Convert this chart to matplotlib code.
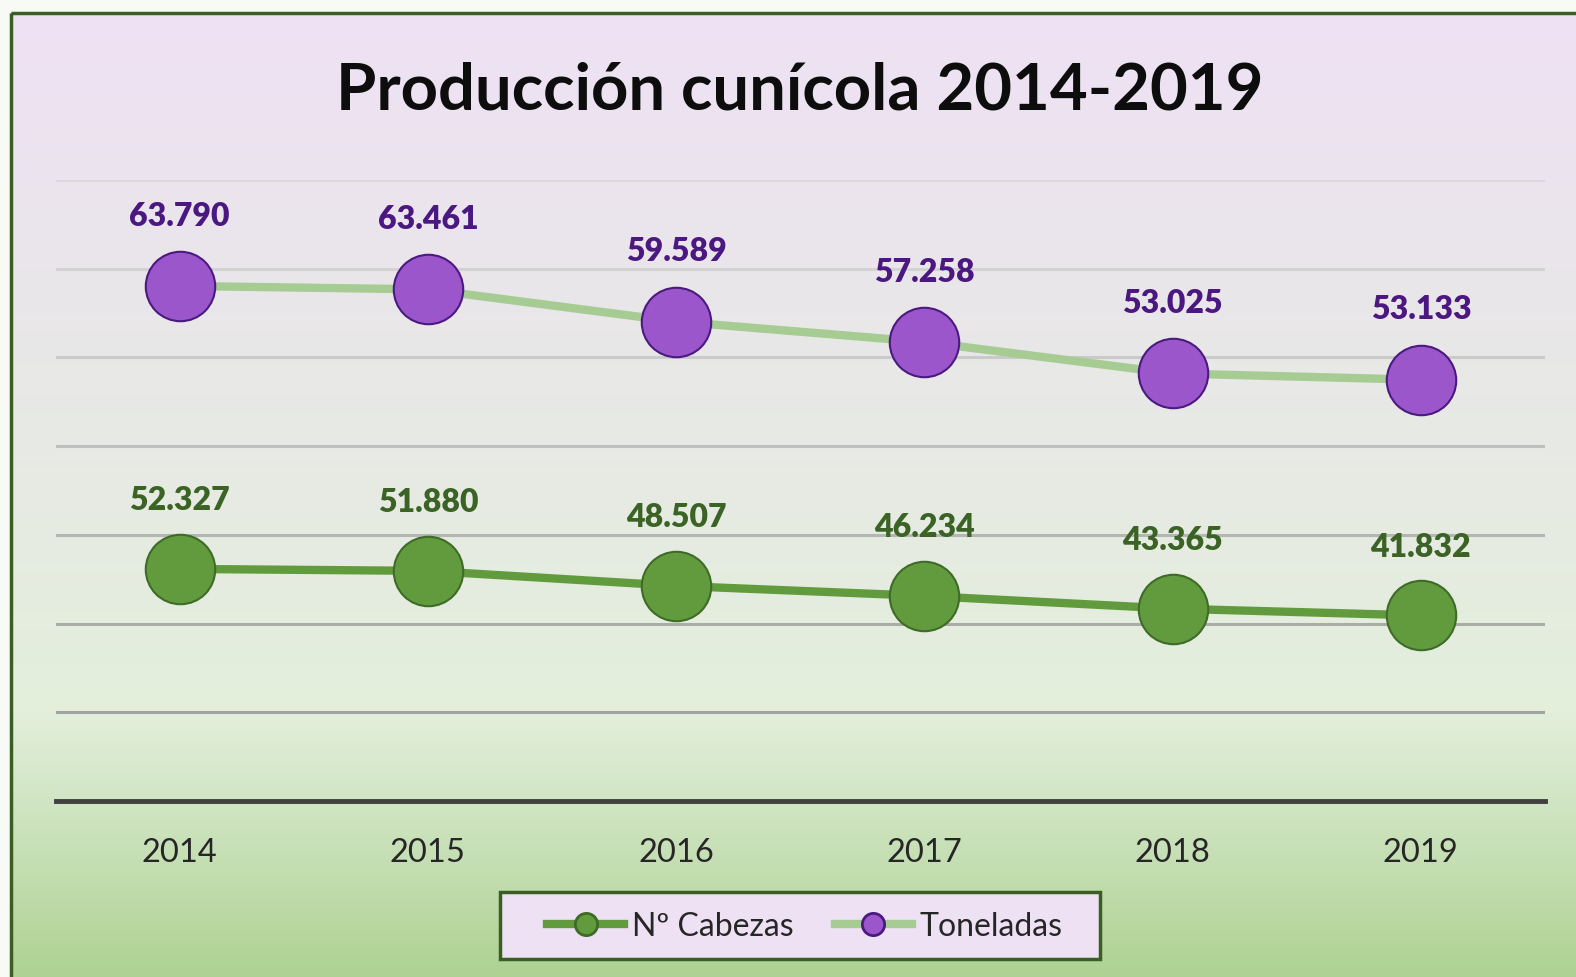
import matplotlib
matplotlib.use('Agg')

import numpy as np
import matplotlib.pyplot as plt
from matplotlib.colors import LinearSegmentedColormap
from matplotlib.patches import Rectangle
from matplotlib.lines import Line2D

# datos
years = ['2014', '2015', '2016', '2017', '2018', '2019']
cabezas = [52327, 51880, 48507, 46234, 43365, 41832]
toneladas = [63790, 63461, 59589, 57258, 53025, 53133]
cabezas_labels = ['52.327', '51.880', '48.507', '46.234', '43.365', '41.832']
toneladas_labels = ['63.790', '63.461', '59.589', '57.258', '53.025', '53.133']

plt.rcParams['font.family'] = ['Lato', 'DejaVu Sans']

W, H = 1576, 978
fig = plt.figure(figsize=(W / 100, H / 100), dpi=100)
fig.patch.set_facecolor('#F7FAF5')

# fondo con degradado y marco
bg = fig.add_axes([0, 0, 1, 1])
bg.set_xlim(0, W)
bg.set_ylim(H, 0)
bg.axis('off')
cmap = LinearSegmentedColormap.from_list(
    'fondo', [(0.0, '#EEE1F4'), (0.72, '#E3EFDB'), (0.82, '#CFE4C1'), (1.0, '#ACD190')])
grad = np.linspace(0, 1, 256).reshape(-1, 1)
bg.imshow(grad, cmap=cmap, aspect='auto', extent=[11, W + 10, H + 10, 14], zorder=0)
bg.add_patch(Rectangle((11, 14), W + 10, H + 10, fill=False, edgecolor='#3B5E24', lw=2.5, zorder=1))
# caja de la leyenda
bg.add_patch(Rectangle((500, 893), 600, 67, facecolor='#EEE1F4', edgecolor='#3B5E24', lw=2.5, zorder=2))

# grafico
ax = fig.add_axes([55.5 / W, (H - 802) / H, (1545 - 55.5) / W, (802 - 181) / H])
ax.patch.set_alpha(0)
x = np.arange(len(years))
stack = np.array(cabezas) + np.array(toneladas)

grid_vals = np.arange(20000, 140001, 20000)
grid_cols = ['#DADADA', '#D3D3D3', '#CACACA', '#C0C0C0', '#B4B6B3', '#A9ACA7', '#A0A49E']
for v, c in zip(grid_vals, grid_cols[::-1]):
    ax.axhline(v, color=c, lw=2.2, zorder=1)

ax.plot(x, cabezas, color='#629B3D', lw=6, marker='o', markersize=50,
        markerfacecolor='#629B3D', markeredgecolor='#3F6B28', markeredgewidth=1.5, zorder=3)
ax.plot(x, stack, color='#A6CC94', lw=6, marker='o', markersize=50,
        markerfacecolor='#9C56CC', markeredgecolor='#4B1A80', markeredgewidth=1.5, zorder=3)

for i in range(len(years)):
    ax.annotate(cabezas_labels[i], (x[i], cabezas[i]), xytext=(0, 50), textcoords='offset points',
                ha='center', va='center', fontsize=23, fontweight='heavy', color='#3B6325', zorder=4)
    ax.annotate(toneladas_labels[i], (x[i], stack[i]), xytext=(0, 51), textcoords='offset points',
                ha='center', va='center', fontsize=23, fontweight='heavy', color='#4B1780', zorder=4)

ax.set_xlim(-0.5, len(years) - 0.5)
ax.set_ylim(0, 140000)
ax.set_yticks([])
ax.set_xticks(x)
ax.set_xticklabels(years, fontsize=23.5, color='#262626')
ax.tick_params(axis='x', length=0, pad=26)
for s in ['top', 'right', 'left']:
    ax.spines[s].set_visible(False)
ax.spines['bottom'].set_color('#404040')
ax.spines['bottom'].set_linewidth(3.5)
ax.spines['bottom'].set_zorder(2)

fig.text(800 / W, 1 - 91 / H, 'Producción cunícola 2014-2019', ha='center', va='center',
         fontsize=47, fontweight='bold', color='#0D0D0D')

handles = [
    Line2D([], [], color='#629B3D', lw=6, marker='o', markersize=16,
           markerfacecolor='#629B3D', markeredgecolor='#3F6B28', markeredgewidth=2),
    Line2D([], [], color='#A6CC94', lw=6, marker='o', markersize=16,
           markerfacecolor='#9C56CC', markeredgecolor='#4B1A80', markeredgewidth=2),
]
leg = fig.legend(handles, ['Nº Cabezas', 'Toneladas'], loc='center',
                 bbox_to_anchor=(805 / W, 1 - 927 / H), ncol=2, fontsize=23,
                 frameon=False, handlelength=2.4, handletextpad=0.25,
                 columnspacing=1.3, borderpad=0, borderaxespad=0, labelcolor='#262626')

plt.savefig('out.png', dpi=100)
